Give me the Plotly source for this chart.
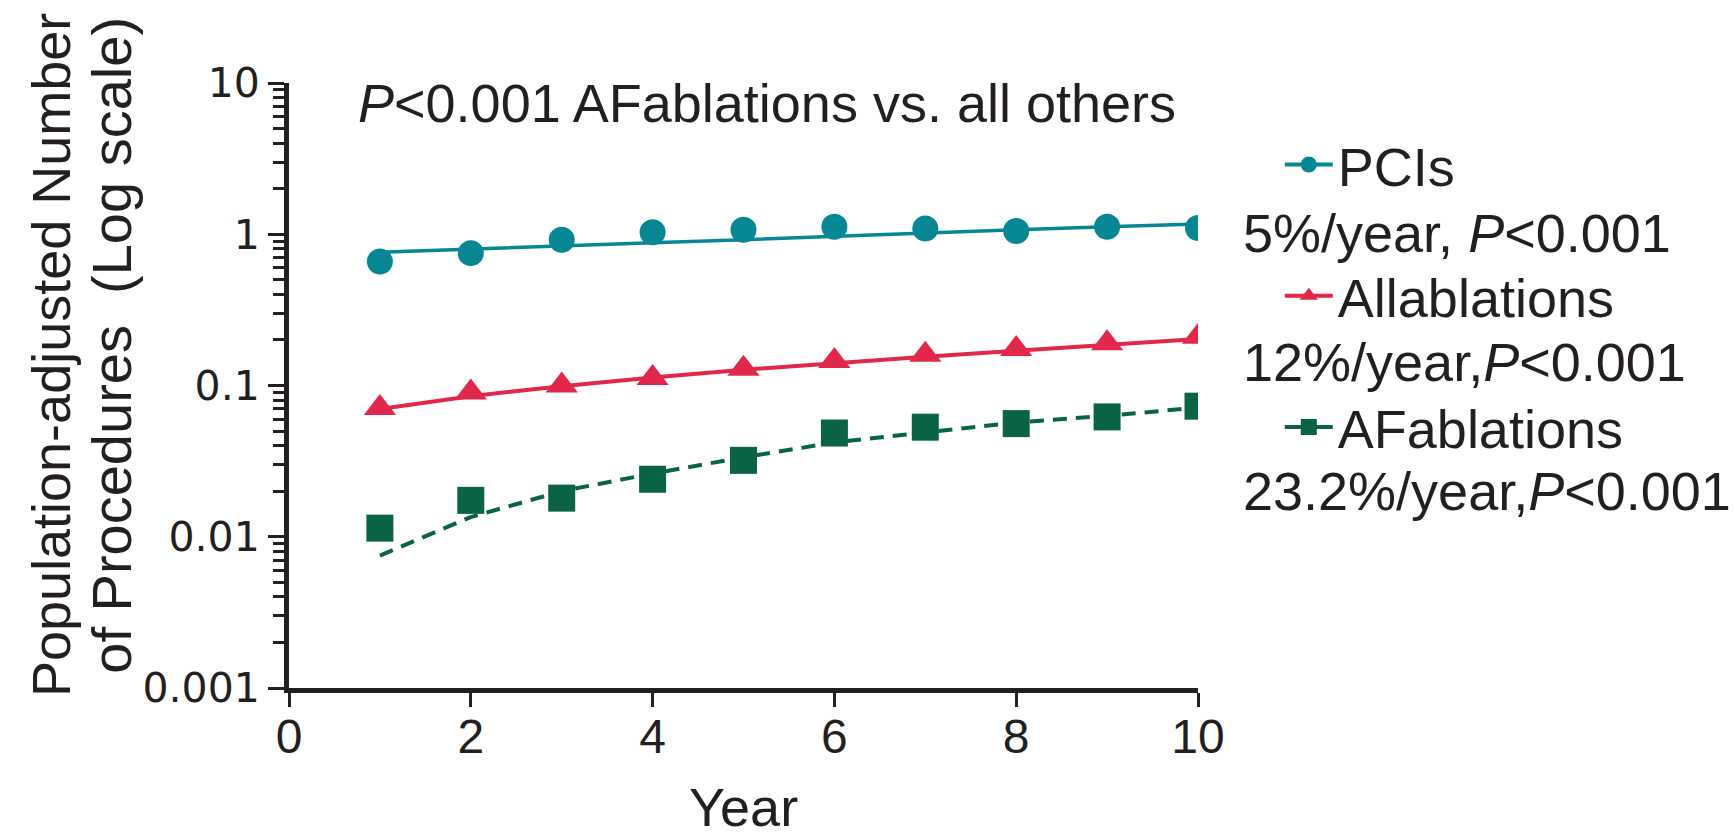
import plotly.graph_objects as go

years = [1, 2, 3, 4, 5, 6, 7, 8, 9, 10]

pci_obs = [0.66, 0.75, 0.92, 1.03, 1.07, 1.12, 1.09, 1.05, 1.12, 1.10]
pci_fit = [0.76, 0.80, 0.84, 0.88, 0.92, 0.97, 1.02, 1.07, 1.12, 1.17]

all_obs = [0.071, 0.090, 0.100, 0.112, 0.129, 0.145, 0.160, 0.174, 0.190, 0.210]
all_fit = [0.070, 0.085, 0.099, 0.113, 0.127, 0.141, 0.155, 0.170, 0.185, 0.203]

af_obs = [0.0114, 0.0174, 0.0180, 0.0240, 0.0320, 0.0485, 0.0530, 0.0560, 0.0620, 0.0730]
af_fit = [0.0075, 0.0135, 0.0200, 0.0262, 0.0335, 0.0420, 0.0490, 0.0570, 0.0630, 0.0715]

series_names = ["PCIs", "Allablations", "AFablations"]
rate_labels = ["5%/year, <i>P</i><0.001", "12%/year,<i>P</i><0.001", "23.2%/year,<i>P</i><0.001"]
note_text = "<i>P</i><0.001 AFablations vs. all others"

y_tickvals = [0.001, 0.01, 0.1, 1, 10]
y_ticktext = ["0.001", "0.01", "0.1", "1", "10"]
x_tickvals = [0, 2, 4, 6, 8, 10]

TEAL = "#078793"
RED = "#e2284a"
GREEN = "#0b6347"
INK = "#231f20"
FONT = "Liberation Sans, Arial, sans-serif"
WIDE = "DejaVu Sans, sans-serif"

fig = go.Figure()

# fitted lines
fig.add_trace(go.Scatter(x=years, y=pci_fit, mode="lines", line=dict(color=TEAL, width=3.5),
                         showlegend=False, hoverinfo="skip"))
fig.add_trace(go.Scatter(x=years, y=all_fit, mode="lines", line=dict(color=RED, width=4),
                         showlegend=False, hoverinfo="skip"))
fig.add_trace(go.Scatter(x=years, y=af_fit, mode="lines", line=dict(color=GREEN, width=4, dash="14px,9px"),
                         showlegend=False, hoverinfo="skip"))

# observed points
fig.add_trace(go.Scatter(x=years, y=pci_obs, mode="markers",
                         marker=dict(symbol="circle", size=26, color=TEAL), showlegend=False))
fig.add_trace(go.Scatter(x=years, y=all_obs, mode="markers",
                         marker=dict(symbol="triangle-up", size=28, color=RED), showlegend=False))
fig.add_trace(go.Scatter(x=years, y=af_obs, mode="markers",
                         marker=dict(symbol="square", size=27, color=GREEN), showlegend=False))

# legend entries
for name, col, sym in zip(series_names, [TEAL, RED, GREEN], ["circle", "triangle-up", "square"]):
    fig.add_trace(go.Scatter(x=[None], y=[None], mode="lines+markers", name=name,
                             line=dict(color=col, width=4),
                             marker=dict(symbol=sym, size=17, color=col),
                             legendgroup=name, showlegend=True))

annotations = [
    dict(text=note_text, xref="paper", yref="paper", x=0.074, y=0.967, xanchor="left", yanchor="middle",
         showarrow=False, font=dict(size=54, color=INK, family=FONT)),
    dict(text="Population-adjusted Number", xref="paper", yref="paper", x=-0.262, y=0.55,
         xanchor="center", yanchor="middle", textangle=-90, showarrow=False,
         font=dict(size=54, color=INK, family=FONT)),
    dict(text="of Procedures\u00a0 (Log scale)", xref="paper", yref="paper", x=-0.195, y=0.567,
         xanchor="center", yanchor="middle", textangle=-90, showarrow=False,
         font=dict(size=56, color=INK, family=FONT)),
    dict(text="Year", xref="paper", yref="paper", x=0.5, y=-0.197, xanchor="center", yanchor="middle",
         showarrow=False, font=dict(size=54, color=INK, family=FONT)),
]
for txt, yy in zip(rate_labels, [0.752, 0.539, 0.326]):
    annotations.append(dict(text=txt, xref="paper", yref="paper", x=1.047, y=yy, xanchor="left",
                            yanchor="middle", showarrow=False, font=dict(size=54, color=INK, family=FONT)))

fig.update_layout(
    width=1735, height=834,
    margin=dict(l=289, r=537, t=83, b=146),
    paper_bgcolor="white", plot_bgcolor="white",
    font=dict(family=FONT, color=INK),
    showlegend=True,
    legend=dict(x=1.09, y=0.934, xanchor="left", yanchor="top", font=dict(size=54, color=INK, family=FONT),
                tracegroupgap=58, itemwidth=48, bgcolor="rgba(0,0,0,0)", traceorder="grouped"),
    annotations=annotations,
)

fig.update_xaxes(range=[0, 10], tickvals=x_tickvals, ticks="outside", ticklen=14, tickwidth=3,
                 tickcolor=INK, showline=True, linewidth=5, linecolor=INK, showgrid=False, zeroline=False,
                 ticklabelstandoff=-12,
                 tickfont=dict(size=48, color=INK, family=FONT))
fig.update_yaxes(type="log", range=[-3, 1], tickvals=y_tickvals, ticktext=y_ticktext, ticks="outside",
                 ticklen=16, tickwidth=3, tickcolor=INK, showline=True, linewidth=5, linecolor=INK,
                 showgrid=False, zeroline=False, tickfont=dict(size=41, color=INK, family=WIDE),
                 minor=dict(ticks="outside", ticklen=11, tickwidth=3, tickcolor=INK, dtick="D1", showgrid=False))

fig.write_html("out.html")
